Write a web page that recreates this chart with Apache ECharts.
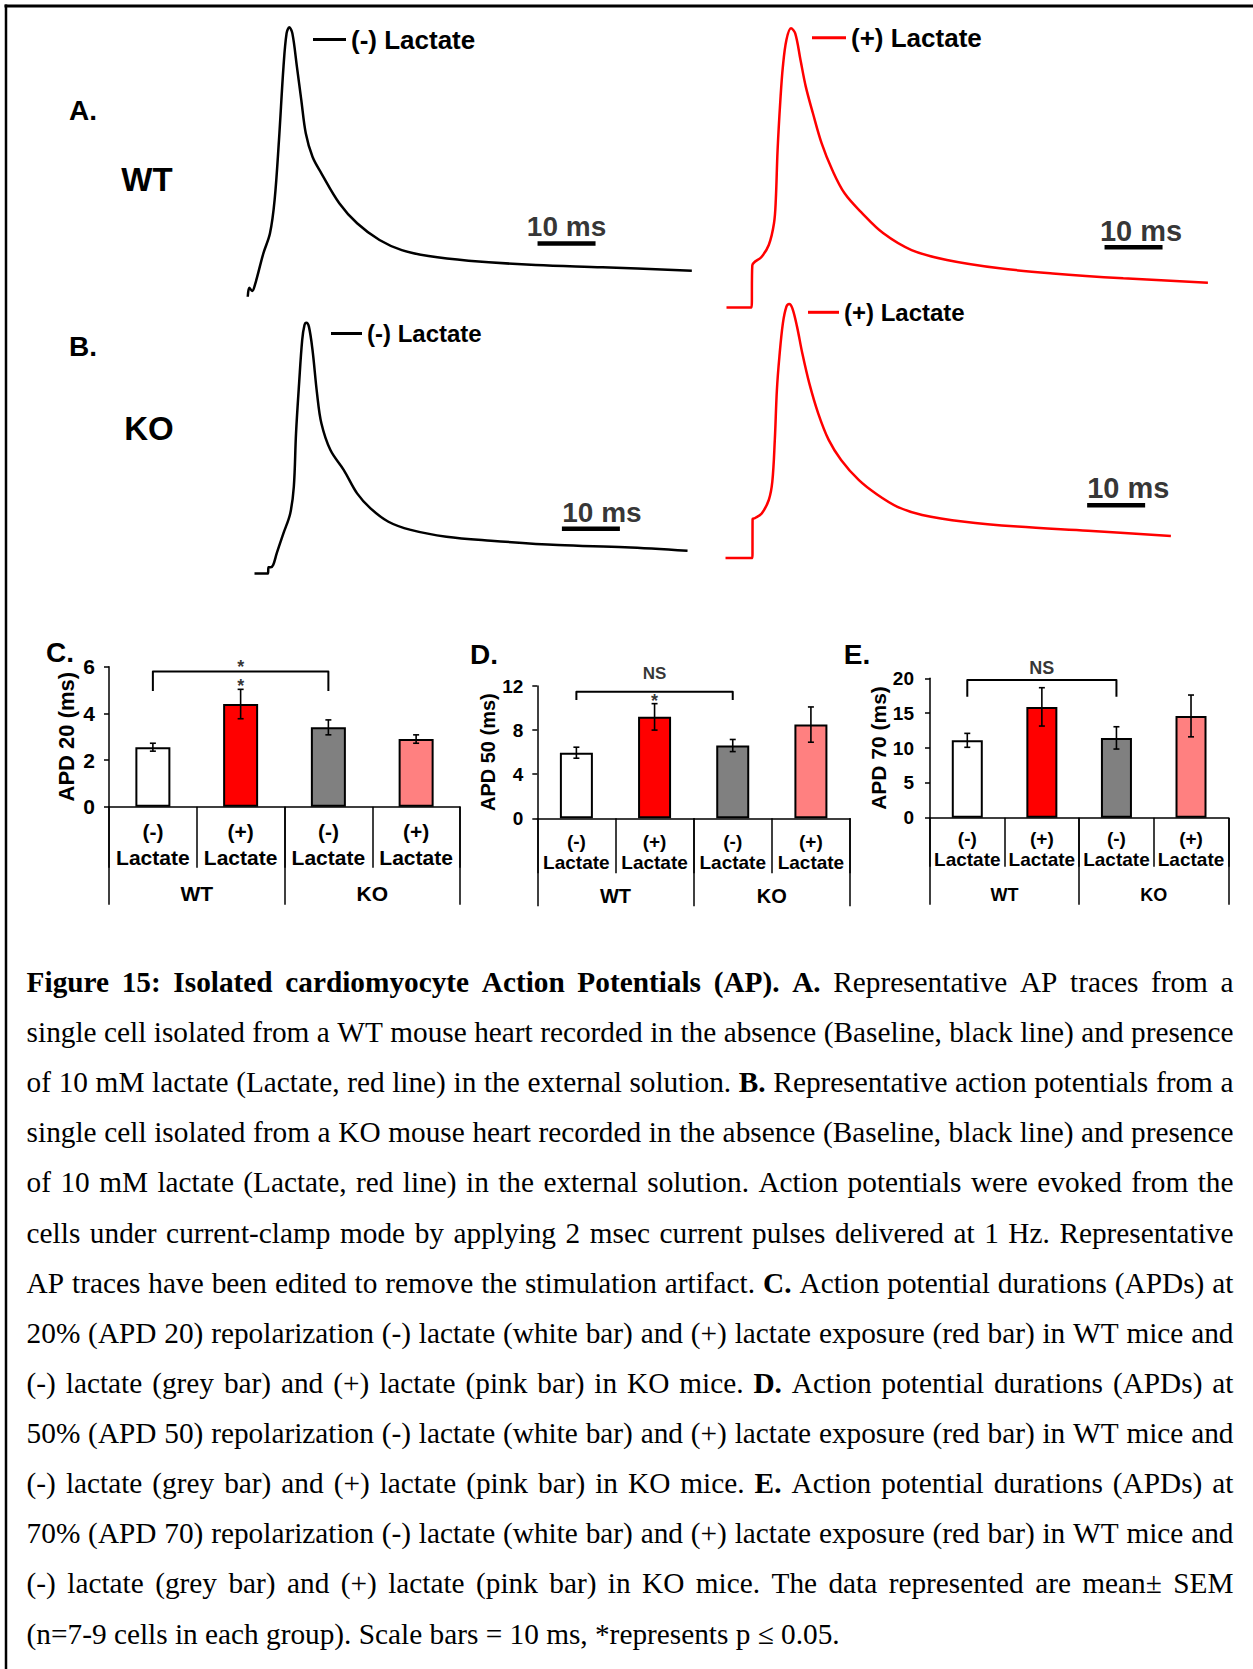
<!DOCTYPE html>
<html><head><meta charset="utf-8">
<script src="https://cdn.jsdelivr.net/npm/echarts/dist/echarts.min.js"></script>
<style>html,body{margin:0;padding:0;background:#fff}#c{width:1253px;height:1669px}</style>
</head><body><div id="c"></div>
<script>
// ---------------- DATA ----------------
// Representative AP traces: time (ms) and membrane potential (mV, arbitrary offset)
const WT_MINUS_T = [1.34, 1.6, 2.1, 2.6, 4.03, 5.17, 5.97, 6.72, 7.5, 8.03, 8.5, 9.03, 9.81, 10.57, 11.34, 12.5, 14.03, 17.12, 20.19, 24.05, 27.9, 32.5, 39.4, 51.0, 62.5, 77.9];
const WT_MINUS_V = [-82.6, -78.5, -80.0, -77.0, -62.9, -53.8, -38.6, -11.4, 22.0, 37.1, 39.9, 37.1, 22.0, 6.8, -8.3, -19.0, -26.5, -40.1, -49.2, -56.8, -61.4, -64.1, -66.2, -68.2, -69.2, -70.8];
const WT_PLUS_T = [1.12, 5.09, 5.43, 5.57, 7.19, 8.41, 9.31, 9.62, 9.93, 10.41, 10.84, 11.45, 12.24, 12.97, 13.88, 14.79, 16.02, 17.53, 19.36, 21.48, 24.53, 28.17, 33.03, 39.12, 48.24, 57.36, 69.53, 84.12];
const WT_PLUS_V = [-87.5, -87.5, -87.5, -68.4, -64.4, -59.1, -49.2, -38.6, -15.9, 6.8, 22.0, 34.1, 39.4, 37.1, 25.0, 12.9, 0.8, -12.9, -25.0, -35.6, -44.7, -53.8, -61.4, -65.9, -69.7, -72.0, -74.2, -76.2];
const KO_MINUS_T = [2.5, 4.83, 4.9, 5.3, 5.72, 6.34, 7.5, 8.66, 9.28, 9.66, 10.19, 10.72, 11.12, 11.43, 11.88, 12.5, 13.28, 14.03, 15.59, 17.9, 20.19, 22.5, 25.59, 29.43, 35.59, 43.28, 54.83, 66.38, 77.16];
const KO_MINUS_V = [-79.3, -79.3, -76.5, -76.5, -75.5, -70.1, -61.0, -52.0, -39.9, -15.6, 7.1, 26.8, 33.6, 34.7, 32.9, 22.3, 2.6, -11.0, -23.2, -32.3, -42.9, -49.7, -55.8, -59.5, -62.6, -64.4, -66.4, -67.4, -69.0];
const KO_PLUS_T = [0.95, 5.34, 5.59, 5.62, 5.98, 7.19, 8.41, 9.02, 9.45, 9.81, 10.24, 10.84, 11.45, 11.93, 12.48, 13.28, 14.19, 15.4, 16.93, 18.74, 20.88, 23.91, 26.97, 30.6, 34.86, 42.17, 51.29, 63.45, 77.74];
const KO_PLUS_V = [-72.3, -72.3, -72.3, -54.5, -54.2, -52.0, -45.9, -37.6, -18.6, 4.1, 19.2, 34.4, 42.0, 43.2, 41.2, 32.9, 20.8, 7.1, -6.5, -18.6, -27.7, -36.8, -43.2, -49.0, -52.7, -55.8, -58.0, -59.9, -62.3];
const SCALE_BAR_MS = 10;

// Bar charts
const CATEGORIES = ['WT (-) Lactate', 'WT (+) Lactate', 'KO (-) Lactate', 'KO (+) Lactate'];
const CAT_LABELS = ['(-)\nLactate', '(+)\nLactate', '(-)\nLactate', '(+)\nLactate'];
const GROUPS = ['WT', 'KO'];
const APD20_MEAN = [2.55, 4.4, 3.4, 2.9];
const APD20_SEM = [0.17, 0.63, 0.32, 0.18];
const APD50_MEAN = [5.95, 9.2, 6.6, 8.5];
const APD50_SEM = [0.5, 1.2, 0.55, 1.6];
const APD70_MEAN = [11.1, 15.9, 11.45, 14.6];
const APD70_SEM = [1.0, 2.75, 1.6, 3.0];
const APD20_TICKS = [0, 2, 4, 6];
const APD50_TICKS = [0, 4, 8, 12];
const APD70_TICKS = [0, 5, 10, 15, 20];
const BAR_COLORS = ['#FFFFFF', '#FF0000', '#808080', '#FF8080'];

const CAPTION = [
  [['Figure 15: Isolated cardiomyocyte Action Potentials (AP). A.', 1], [' Representative AP traces from a', 0]],
  [['single cell isolated from a WT mouse heart recorded in the absence (Baseline, black line) and presence', 0]],
  [['of 10 mM lactate (Lactate, red line) in the external solution.', 0], [' B.', 1], [' Representative action potentials from a', 0]],
  [['single cell isolated from a KO mouse heart recorded in the absence (Baseline, black line) and presence', 0]],
  [['of 10 mM lactate (Lactate, red line) in the external solution. Action potentials were evoked from the', 0]],
  [['cells under current-clamp mode by applying 2 msec current pulses delivered at 1 Hz. Representative', 0]],
  [['AP traces have been edited to remove the stimulation artifact.', 0], [' C.', 1], [' Action potential durations (APDs) at', 0]],
  [['20% (APD 20) repolarization (-) lactate (white bar) and (+) lactate exposure (red bar) in WT mice and', 0]],
  [['(-) lactate (grey bar) and (+) lactate (pink bar) in KO mice.', 0], [' D.', 1], [' Action potential durations (APDs) at', 0]],
  [['50% (APD 50) repolarization (-) lactate (white bar) and (+) lactate exposure (red bar) in WT mice and', 0]],
  [['(-) lactate (grey bar) and (+) lactate (pink bar) in KO mice.', 0], [' E.', 1], [' Action potential durations (APDs) at', 0]],
  [['70% (APD 70) repolarization (-) lactate (white bar) and (+) lactate exposure (red bar) in WT mice and', 0]],
  [['(-) lactate (grey bar) and (+) lactate (pink bar) in KO mice. The data represented are mean\u00b1 SEM', 0]],
  [['(n=7-9 cells in each group). Scale bars = 10 ms, *represents p \u2264 0.05.', 0]]
];

// ---------------- BUILD ----------------
const SANS = '"Liberation Sans", Arial, sans-serif';
const SERIF = '"Liberation Serif", "Times New Roman", serif';
const zip = (a, b) => a.map((x, i) => [x, b[i]]);

const grid = [], xAxis = [], yAxis = [], series = [], legend = [], graphic = [];

// Trace panels
const traces = [
  { name: '(-) Lactate', t: WT_MINUS_T, v: WT_MINUS_V, color: '#000000', g: { left: 240, top: 16, width: 464, height: 308 }, xMax: 80,
    bar: { t0: 51.3, v: -58.4, tx: 56.3, tv: -50.7, fs: 28 }, leg: { left: 313, top: 26.5, w: 33, fs: 26 } },
  { name: '(+) Lactate', t: WT_PLUS_T, v: WT_PLUS_V, color: '#FF0000', g: { left: 720, top: 16, width: 493, height: 308 }, xMax: 85,
    bar: { t0: 66.3, v: -60.1, tx: 72.6, tv: -52.7, fs: 29 }, leg: { left: 812, top: 24.7, w: 34, fs: 26 } },
  { name: '(-) Lactate', t: KO_MINUS_T, v: KO_MINUS_V, color: '#000000', g: { left: 240, top: 300, width: 464, height: 308 }, xMax: 80,
    bar: { t0: 55.5, v: -59.0, tx: 62.4, tv: -51.8, fs: 28 }, leg: { left: 331, top: 321.5, w: 31, fs: 24 } },
  { name: '(+) Lactate', t: KO_PLUS_T, v: KO_PLUS_V, color: '#FF0000', g: { left: 720, top: 300, width: 493, height: 308 }, xMax: 85,
    bar: { t0: 63.3, v: -48.3, tx: 70.4, tv: -40.5, fs: 29 }, leg: { left: 808, top: 300.3, w: 31, fs: 24 } }
];
traces.forEach((tr, i) => {
  grid.push(tr.g);
  xAxis.push({ type: 'value', gridIndex: i, min: 0, max: tr.xMax, show: false });
  yAxis.push({ type: 'value', gridIndex: i, min: -95, max: 45, show: false });
  series.push({ type: 'line', name: tr.name, xAxisIndex: i, yAxisIndex: i, data: zip(tr.t, tr.v),
    symbol: 'none', smooth: 0.35, clip: false, lineStyle: { color: tr.color, width: 2.5 }, itemStyle: { color: tr.color } });
  series.push({ type: 'line', xAxisIndex: i, yAxisIndex: i, data: [[tr.bar.t0, tr.bar.v], [tr.bar.t0 + SCALE_BAR_MS, tr.bar.v]],
    symbol: 'none', lineStyle: { color: '#000', width: 4.5 }, silent: true });
  series.push({ type: 'scatter', xAxisIndex: i, yAxisIndex: i, symbolSize: 0, clip: false, silent: true,
    data: [{ name: SCALE_BAR_MS + ' ms', value: [tr.bar.tx, tr.bar.tv] }],
    label: { show: true, position: 'inside', formatter: '{b}', color: '#000', fontSize: tr.bar.fs, fontWeight: 'bold', fontFamily: SANS } });
  legend.push({ left: tr.leg.left, top: tr.leg.top, padding: 0, selectedMode: false, icon: 'rect', itemWidth: tr.leg.w, itemHeight: 3,
    data: [tr.name], textStyle: { color: '#000', fontSize: tr.leg.fs, fontWeight: 'bold', fontFamily: SANS } });
});

// Bar panels
const bars = [
  { mean: APD20_MEAN, sem: APD20_SEM, ticks: APD20_TICKS, name: 'APD 20 (ms)', g: { left: 109, top: 666.7, width: 351, height: 140 },
    bw: 35, tickFs: 21, labMargin: 14, nameFs: 22, nameGap: 32, catFs: 21, catLh: 26, catMargin: 12, catTick: 61, grpFs: 21, grpMargin: 76, grpTick: 98,
    bracket: { from: 0, to: 2, top: 5.79, leg: 4.96 }, notes: [{ t: '*\n*', y: 5.58, fs: 18, lh: 18.4 }] },
  { mean: APD50_MEAN, sem: APD50_SEM, ticks: APD50_TICKS, name: 'APD 50 (ms)', g: { left: 537.3, top: 686, width: 312.7, height: 132.3 },
    bw: 33, tickFs: 19, labMargin: 14, nameFs: 20, nameGap: 37, catFs: 19, catLh: 21, catMargin: 13, catTick: 55, grpFs: 20, grpMargin: 67.5, grpTick: 88,
    bracket: { from: 0, to: 2, top: 11.48, leg: 10.73 }, notes: [{ t: 'NS', y: 13.15, fs: 17 }, { t: '*', y: 10.66, fs: 18 }] },
  { mean: APD70_MEAN, sem: APD70_SEM, ticks: APD70_TICKS, name: 'APD 70 (ms)', g: { left: 930, top: 678.3, width: 298.3, height: 139.4 },
    bw: 31, tickFs: 19, labMargin: 16, nameFs: 21, nameGap: 37, catFs: 19, catLh: 21, catMargin: 10, catTick: 49, grpFs: 18, grpMargin: 68, grpTick: 87,
    bracket: { from: 0, to: 2.08, top: 19.76, leg: 17.36 }, notes: [{ t: 'NS', y: 21.43, fs: 18 }] }
];
const black = { color: '#000', width: 1.5 };
bars.forEach((b, k) => {
  const gi = grid.length;
  grid.push(b.g);
  const xi = xAxis.length;
  xAxis.push({ type: 'category', gridIndex: gi, data: CATEGORIES, position: 'bottom',
    axisLine: { show: true, lineStyle: black }, axisTick: { show: true, length: b.catTick, interval: 0, lineStyle: black },
    axisLabel: { interval: 0, margin: b.catMargin, formatter: (v, i) => CAT_LABELS[i], fontSize: b.catFs, lineHeight: b.catLh,
      fontWeight: 'bold', color: '#000', fontFamily: SANS }, splitLine: { show: false } });
  xAxis.push({ type: 'category', gridIndex: gi, data: GROUPS, position: 'bottom',
    axisLine: { show: false }, axisTick: { show: true, length: b.grpTick, interval: 0, lineStyle: black },
    axisLabel: { interval: 0, margin: b.grpMargin, fontSize: b.grpFs, fontWeight: 'bold', color: '#000', fontFamily: SANS }, splitLine: { show: false } });
  const yi = yAxis.length;
  const tk = b.ticks;
  yAxis.push({ type: 'value', gridIndex: gi, min: tk[0], max: tk[tk.length - 1], interval: tk[1] - tk[0],
    axisLine: { show: true, lineStyle: black }, axisTick: { show: true, length: 5, lineStyle: black }, splitLine: { show: false },
    axisLabel: { fontSize: b.tickFs, fontWeight: 'bold', color: '#000', margin: b.labMargin, fontFamily: SANS },
    name: b.name, nameLocation: 'middle', nameRotate: 90, nameGap: b.nameGap,
    nameTextStyle: { fontSize: b.nameFs, fontWeight: 'bold', color: '#000', fontFamily: SANS } });
  series.push({ type: 'bar', xAxisIndex: xi, yAxisIndex: yi, barWidth: b.bw,
    data: b.mean.map((v, i) => ({ value: v, itemStyle: { color: BAR_COLORS[i] } })),
    itemStyle: { borderColor: '#000', borderWidth: 2 } });
  series.push({ type: 'custom', xAxisIndex: xi, yAxisIndex: yi, z: 5, silent: true,
    data: b.mean.map((v, i) => [i, v, b.sem[i]]), encode: { x: 0, y: 1 },
    renderItem: (params, api) => {
      const x = api.value(0), m = api.value(1), e = api.value(2);
      const p1 = api.coord([x, m + e]), p2 = api.coord([x, m - e]);
      const st = { stroke: '#000', lineWidth: 1.6 };
      const cw = 3;
      return { type: 'group', children: [
        { type: 'line', shape: { x1: p1[0], y1: p1[1], x2: p2[0], y2: p2[1] }, style: st },
        { type: 'line', shape: { x1: p1[0] - cw, y1: p1[1], x2: p1[0] + cw, y2: p1[1] }, style: st },
        { type: 'line', shape: { x1: p2[0] - cw, y1: p2[1], x2: p2[0] + cw, y2: p2[1] }, style: st }
      ] };
    } });
  series.push({ type: 'line', xAxisIndex: xi, yAxisIndex: yi, symbol: 'none', silent: true, clip: false,
    data: [[b.bracket.from, b.bracket.leg], [b.bracket.from, b.bracket.top], [b.bracket.to, b.bracket.top], [b.bracket.to, b.bracket.leg]],
    lineStyle: { color: '#000', width: 2, join: 'round' } });
  b.notes.forEach(n => {
    series.push({ type: 'scatter', xAxisIndex: xi, yAxisIndex: yi, symbolSize: 0, clip: false, silent: true,
      data: [{ name: n.t, value: [1, n.y] }],
      label: { show: true, position: 'inside', formatter: '{b}', color: '#000', fontSize: n.fs, lineHeight: n.lh || n.fs,
        fontWeight: 'bold', fontFamily: SANS } });
  });
});

// Frame lines
graphic.push({ type: 'line', shape: { x1: 4.5, y1: 6, x2: 1253, y2: 6 }, style: { stroke: '#000', lineWidth: 3 } });
graphic.push({ type: 'line', shape: { x1: 6, y1: 4.5, x2: 6, y2: 1669 }, style: { stroke: '#000', lineWidth: 2.5 } });

// Panel labels
const labels = [['A.', 83, 110, 28], ['WT', 147, 179, 33], ['B.', 83, 346, 28], ['KO', 149, 428, 33],
  ['C.', 60, 652, 28], ['D.', 484, 654, 28], ['E.', 857, 654, 28]];
labels.forEach(l => graphic.push({ type: 'text', x: l[1], y: l[2],
  style: { text: l[0], font: 'bold ' + l[3] + 'px ' + SANS, fill: '#000', align: 'center', verticalAlign: 'middle' } }));

// Caption (justified)
const CAP_FS = 29.3, CAP_X0 = 26.6, CAP_X1 = 1233.5, CAP_Y0 = 982, CAP_DY = 50.12;
const ctx = document.createElement('canvas').getContext('2d');
const fontOf = b => (b ? 'bold ' : '') + CAP_FS + 'px ' + SERIF;
CAPTION.forEach((line, li) => {
  const words = [];
  line.forEach(([txt, bold]) => txt.split(' ').filter(w => w.length).forEach(w => words.push({ w, bold })));
  words.forEach(o => { ctx.font = fontOf(o.bold); o.width = ctx.measureText(o.w).width; });
  ctx.font = fontOf(0);
  const spaceW = ctx.measureText(' ').width;
  const total = words.reduce((s, o) => s + o.width, 0);
  const last = li === CAPTION.length - 1;
  const gap = last ? spaceW : (CAP_X1 - CAP_X0 - total) / (words.length - 1);
  let x = CAP_X0;
  const y = CAP_Y0 + CAP_DY * li;
  words.forEach(o => {
    graphic.push({ type: 'text', x: x, y: y, silent: true,
      style: { text: o.w, font: fontOf(o.bold), fill: '#000', align: 'left', verticalAlign: 'middle' } });
    x += o.width + gap;
  });
});

const chart = echarts.init(document.getElementById('c'), null, { renderer: 'svg', width: 1253, height: 1669 });
chart.setOption({ animation: false, backgroundColor: '#fff', grid, xAxis, yAxis, series, legend, graphic });
</script></body></html>
